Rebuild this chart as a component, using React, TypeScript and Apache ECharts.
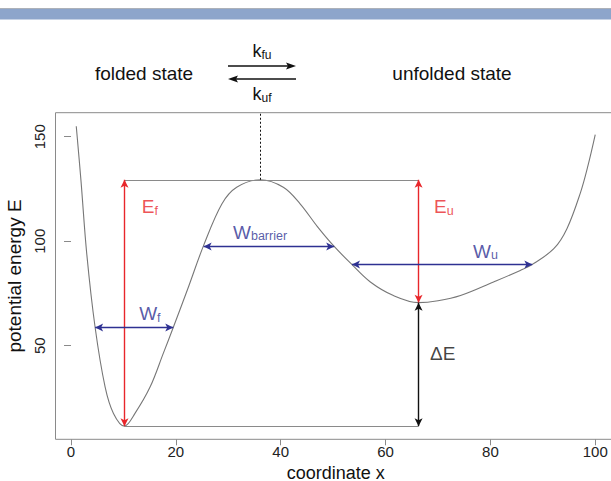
import React, { useEffect, useRef } from "react";
import * as echarts from "echarts";

// ---- curve (potential energy along the coordinate) ----
const curveX = [1, 1.9, 3.0, 4.6, 6.5, 8.1, 10.2, 12.2, 15.1, 17.6, 19.5, 22.4, 25.3, 28.8, 31.6, 36.1, 40.5, 43.7, 47, 50.2, 53.6, 57.1, 61.5, 66.3, 70, 74.3, 80.6, 85.7, 88, 92.1, 94.6, 97.2, 98.6, 100];
const curveE = [155, 129, 94, 58.7, 30.3, 17.6, 11.5, 17.6, 30.3, 46.3, 58.7, 78.1, 98, 117.9, 125.8, 129.4, 125.8, 117.9, 107, 97.5, 88.8, 80.5, 74, 70.6, 71.5, 74, 80.5, 86, 88.9, 96.4, 106, 123.4, 136, 151];

// ---- axes ----
const xTicks = [0, 20, 40, 60, 80, 100];
const yTicks = [50, 100, 150];
const xRange = [-2.96, 103.96];
const yRange = [5.2, 161.5];

// ---- landmarks ----
const barrierX = 36.1;
const barrierE = 129.4;
const foldedX = 10.2;
const foldedE = 11.5;
const unfoldedX = 66.3;
const unfoldedE = 70.6;

// widths: [level E, from x, to x]
const widthF = [58.7, 4.6, 19.5];
const widthBarrier = [97.5, 25.3, 50.2];
const widthU = [88.9, 53.6, 88.0];

// annotation labels: [x, E, main, sub, kind]
const labelItems: [number, number, string, string, string][] = [
  [13.5, 116.4, "E", "f", "red"],
  [69.25, 116.6, "E", "u", "red"],
  [13.0, 65.2, "W", "f", "blue"],
  [30.9, 104.4, "W", "barrier", "blue"],
  [76.7, 95.1, "W", "u", "blue"],
  [68.5, 46.3, "ΔE", "", "black"],
];

const FONT = '"Liberation Sans", Arial, Helvetica, sans-serif';
const GRAY = "#8a8a8a";
const RED = "#e8262b";
const BLUE = "#2e3192";
const BLACK = "#111111";

function seg(x1: number, y1: number, x2: number, y2: number) {
  return [{ coord: [x1, y1] }, { coord: [x2, y2] }];
}

function markLineSeries(name: string, color: string, arrows: boolean, lines: any[], dashed = false) {
  return {
    name,
    type: "line",
    data: [],
    silent: true,
    markLine: {
      silent: true,
      animation: false,
      symbol: arrows ? ["arrow", "arrow"] : ["none", "none"],
      symbolSize: [6, 8],
      label: { show: false },
      emphasis: { disabled: true },
      lineStyle: { color, width: arrows ? 1.4 : 1, type: dashed ? [2, 2] : "solid" },
      data: lines,
    },
  };
}

export default function App() {
  const ref = useRef<HTMLDivElement>(null);

  useEffect(() => {
    if (!ref.current) return;
    const chart = echarts.init(ref.current, undefined, { renderer: "svg" });

    const colorOf: Record<string, string> = { red: RED, blue: BLUE, black: BLACK };

    const option: any = {
      animation: false,
      textStyle: { fontFamily: FONT },
      grid: {
        left: 55.5,
        top: 112.7,
        right: -5,
        bottom: 41.7,
        containLabel: false,
        outerBoundsMode: "none",
        show: true,
        borderColor: GRAY,
        borderWidth: 1,
        backgroundColor: "transparent",
      },
      xAxis: {
        type: "value",
        min: xRange[0],
        max: xRange[1],
        name: "coordinate x",
        nameLocation: "middle",
        nameGap: 26,
        nameTextStyle: { fontSize: 18, color: "#111", fontFamily: FONT, verticalAlign: "middle" },
        axisLine: { show: false },
        splitLine: { show: false },
        axisTick: { show: true, inside: false, length: 6, lineStyle: { color: GRAY }, customValues: xTicks },
        axisLabel: { show: true, margin: 5, fontSize: 15, color: "#222", fontFamily: FONT, customValues: xTicks },
      },
      yAxis: {
        type: "value",
        min: yRange[0],
        max: yRange[1],
        name: "potential energy E",
        nameLocation: "middle",
        nameRotate: 90,
        nameGap: 22,
        nameTextStyle: { fontSize: 19, color: "#111", fontFamily: FONT },
        axisLine: { show: false },
        splitLine: { show: false },
        axisTick: { show: true, inside: false, length: 7, lineStyle: { color: GRAY }, customValues: yTicks },
        axisLabel: { show: true, rotate: 90, margin: 9, fontSize: 15, color: "#222", fontFamily: FONT, customValues: yTicks },
      },
      graphic: [
        { type: "rect", shape: { x: 0, y: 8.5, width: 611, height: 11 }, style: { fill: "#8da5cb" }, silent: true },
        { type: "line", shape: { x1: 0, y1: 8.5, x2: 611, y2: 8.5 }, style: { stroke: "#9a9a9a", lineWidth: 0.6 }, silent: true },
        {
          type: "text",
          x: 144,
          y: 73.5,
          style: { text: "folded state", font: `19px ${FONT}`, fill: "#111", align: "center", verticalAlign: "middle" },
        },
        {
          type: "text",
          x: 452,
          y: 73.5,
          style: { text: "unfolded state", font: `19px ${FONT}`, fill: "#111", align: "center", verticalAlign: "middle" },
        },
        {
          type: "text",
          x: 262,
          y: 51,
          style: {
            text: "{m|k}{s|fu}",
            align: "center",
            verticalAlign: "middle",
            fill: "#111",
            rich: {
              m: { fontSize: 18, fontFamily: FONT, fill: "#111" },
              s: { fontSize: 12, fontFamily: FONT, fill: "#111", verticalAlign: "bottom", padding: [8, 0, 0, 0] },
            },
          },
        },
        {
          type: "text",
          x: 262,
          y: 94,
          style: {
            text: "{m|k}{s|uf}",
            align: "center",
            verticalAlign: "middle",
            fill: "#111",
            rich: {
              m: { fontSize: 18, fontFamily: FONT, fill: "#111" },
              s: { fontSize: 12, fontFamily: FONT, fill: "#111", verticalAlign: "bottom", padding: [8, 0, 0, 0] },
            },
          },
        },
        { type: "line", shape: { x1: 228, y1: 66, x2: 291, y2: 66 }, style: { stroke: "#111", lineWidth: 1.6 } },
        { type: "polygon", shape: { points: [[296, 66], [286, 62.5], [288, 66], [286, 69.5]] }, style: { fill: "#111" } },
        { type: "line", shape: { x1: 233, y1: 79, x2: 296, y2: 79 }, style: { stroke: "#111", lineWidth: 1.6 } },
        { type: "polygon", shape: { points: [[228, 79], [238, 75.5], [236, 79], [238, 82.5]] }, style: { fill: "#111" } },
      ],
      series: [
        {
          name: "potential",
          type: "line",
          data: curveX.map((x, i) => [x, curveE[i]]),
          showSymbol: false,
          smooth: 0.35,
          silent: true,
          lineStyle: { color: "#777", width: 1.1 },
          z: 3,
        },
        markLineSeries("guides", GRAY, false, [
          seg(foldedX, barrierE, unfoldedX, barrierE),
          seg(foldedX, foldedE, unfoldedX, foldedE),
        ]),
        markLineSeries("barrierTop", BLACK, false, [seg(barrierX, barrierE, barrierX, yRange[1])], true),
        markLineSeries("energies", RED, true, [
          seg(foldedX, foldedE, foldedX, barrierE),
          seg(unfoldedX, unfoldedE, unfoldedX, barrierE),
        ]),
        markLineSeries("deltaE", BLACK, true, [seg(unfoldedX, foldedE, unfoldedX, unfoldedE)]),
        markLineSeries("widths", BLUE, true, [
          seg(widthF[1], widthF[0], widthF[2], widthF[0]),
          seg(widthBarrier[1], widthBarrier[0], widthBarrier[2], widthBarrier[0]),
          seg(widthU[1], widthU[0], widthU[2], widthU[0]),
        ]),
        {
          name: "labels",
          type: "scatter",
          silent: true,
          symbolSize: 0,
          data: labelItems.map(([x, e, main, sub, kind]) => ({
            value: [x, e],
            label: {
              show: true,
              position: "right",
              distance: 0,
              formatter: sub ? `{m|${main}}{s|${sub}}` : `{m|${main}}`,
              rich: {
                m: { fontSize: 19, fontFamily: FONT, color: colorOf[kind] },
                s: { fontSize: 12.5, fontFamily: FONT, color: colorOf[kind], verticalAlign: "bottom", padding: [8, 0, 0, 0] },
              },
            },
          })),
          z: 5,
        },
      ],
    };

    chart.setOption(option);
    return () => chart.dispose();
  }, []);

  return (
    <div
      ref={ref}
      style={{ position: "fixed", left: 0, top: 0, width: 611, height: 481, background: "#fff" }}
    />
  );
}
